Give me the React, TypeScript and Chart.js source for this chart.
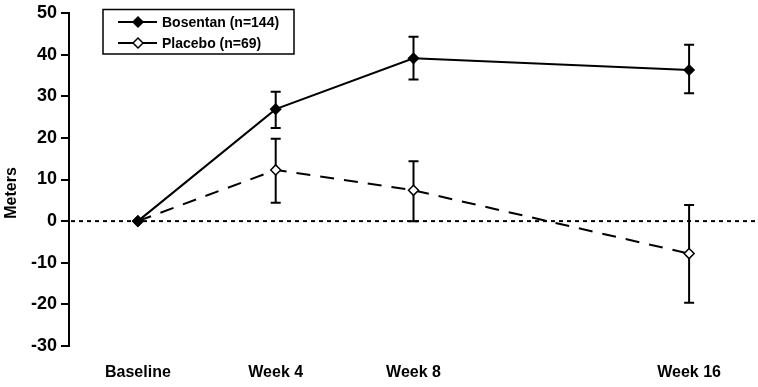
import React, { useEffect, useRef } from 'react';
import { Chart, registerables } from 'chart.js';

Chart.register(...registerables);

const weeks = [0, 4, 8, 16];
const xTickLabels = ['Baseline', 'Week 4', 'Week 8', 'Week 16'];
const yTicks = [-30, -20, -10, 0, 10, 20, 30, 40, 50];
const seriesNames = ['Bosentan (n=144)', 'Placebo (n=69)'];
const bosentan = [0, 26.9, 39.1, 36.3];
const bosentanLow = [0, 22.4, 34.0, 30.7];
const bosentanHigh = [0, 31.1, 44.3, 42.4];
const placebo = [0, 12.3, 7.4, -7.8];
const placeboLow = [0, 4.4, 0, -19.6];
const placeboHigh = [0, 19.8, 14.4, 3.9];
const yTitle = 'Meters';

const FONT = '"Liberation Sans", Arial, Helvetica, sans-serif';

const errorBarPlugin = {
  id: 'errorBars',
  beforeDatasetsDraw(chart: any) {
    const { ctx, chartArea, scales } = chart;
    const x = scales.x;
    const y = scales.y;
    ctx.save();
    // zero reference line
    ctx.strokeStyle = '#000';
    ctx.lineWidth = 2;
    ctx.setLineDash([4, 4]);
    const y0 = y.getPixelForValue(0);
    ctx.beginPath();
    ctx.moveTo(chartArea.left + 2, y0);
    ctx.lineTo(chartArea.right, y0);
    ctx.stroke();
    ctx.setLineDash([]);
    const sets = [
      [bosentanLow, bosentanHigh],
      [placeboLow, placeboHigh],
    ];
    sets.forEach(([lo, hi]) => {
      weeks.forEach((w, i) => {
        if (lo[i] === hi[i]) return;
        const px = x.getPixelForValue(w);
        const y1 = y.getPixelForValue(lo[i]);
        const y2 = y.getPixelForValue(hi[i]);
        ctx.beginPath();
        ctx.moveTo(px, y1);
        ctx.lineTo(px, y2);
        ctx.moveTo(px - 5, y1);
        ctx.lineTo(px + 5, y1);
        ctx.moveTo(px - 5, y2);
        ctx.lineTo(px + 5, y2);
        ctx.stroke();
      });
    });
    ctx.restore();
  },
};

const diamond = (ctx: CanvasRenderingContext2D, cx: number, cy: number, r: number, fill: string) => {
  ctx.beginPath();
  ctx.moveTo(cx - r, cy);
  ctx.lineTo(cx, cy - r);
  ctx.lineTo(cx + r, cy);
  ctx.lineTo(cx, cy + r);
  ctx.closePath();
  ctx.fillStyle = fill;
  ctx.fill();
  ctx.stroke();
};

const legendAndTitlePlugin = {
  id: 'legendBox',
  afterDraw(chart: any) {
    const { ctx } = chart;
    ctx.save();
    ctx.strokeStyle = '#000';
    ctx.lineWidth = 1.5;
    ctx.strokeRect(103, 9.5, 191, 44.5);
    const rows = [22, 43];
    const fills = ['#000', '#fff'];
    rows.forEach((ry, i) => {
      ctx.lineWidth = 2;
      ctx.beginPath();
      ctx.moveTo(118, ry);
      ctx.lineTo(157, ry);
      ctx.stroke();
      ctx.lineWidth = 1.5;
      diamond(ctx, 138, ry, 5, fills[i]);
      ctx.fillStyle = '#000';
      ctx.font = `bold 14px ${FONT}`;
      ctx.textAlign = 'left';
      ctx.textBaseline = 'middle';
      ctx.fillText(seriesNames[i], 162, ry + 1);
    });
    // y axis title
    ctx.translate(11, 193);
    ctx.rotate(-Math.PI / 2);
    ctx.font = `bold 16px ${FONT}`;
    ctx.textAlign = 'center';
    ctx.textBaseline = 'middle';
    ctx.fillStyle = '#000';
    ctx.fillText(yTitle, 0, 1);
    ctx.restore();
  },
};

export default function App() {
  const canvasRef = useRef<HTMLCanvasElement | null>(null);

  useEffect(() => {
    if (!canvasRef.current) return;
    Chart.defaults.font.family = FONT;
    Chart.defaults.color = '#000';
    const chart = new Chart(canvasRef.current, {
      type: 'line',
      data: {
        datasets: [
          {
            label: seriesNames[0],
            data: weeks.map((w, i) => ({ x: w, y: bosentan[i] })),
            borderColor: '#000',
            backgroundColor: '#000',
            borderWidth: 2,
            pointStyle: 'rectRot',
            pointRadius: 5,
            pointBackgroundColor: '#000',
            pointBorderColor: '#000',
            pointBorderWidth: 1.5,
            tension: 0,
          },
          {
            label: seriesNames[1],
            data: weeks.map((w, i) => ({ x: w, y: placebo[i] })),
            borderColor: '#000',
            backgroundColor: '#fff',
            borderWidth: 2,
            borderDash: [14, 10],
            pointStyle: 'rectRot',
            pointRadius: 5,
            pointBackgroundColor: '#fff',
            pointBorderColor: '#000',
            pointBorderWidth: 1.5,
            tension: 0,
          },
        ],
      },
      options: {
        responsive: false,
        animation: false,
        layout: { autoPadding: false, padding: { top: 10, left: 0, right: 0, bottom: 0 } },
        plugins: {
          legend: { display: false },
          tooltip: { enabled: false },
        },
        scales: {
          x: {
            type: 'linear',
            min: -2,
            max: 18,
            afterBuildTicks: (s: any) => {
              s.ticks = weeks.map((v) => ({ value: v }));
            },
            afterFit: (s: any) => {
              s.height = 41;
            },
            grid: { display: false, drawTicks: false },
            border: { display: false },
            ticks: {
              autoSkip: false,
              maxRotation: 0,
              padding: 17,
              font: { size: 16, weight: 'bold' },
              color: '#000',
              callback: (v: any) => {
                const idx = weeks.indexOf(Number(v));
                return idx >= 0 ? xTickLabels[idx] : '';
              },
            },
          },
          y: {
            min: -30,
            max: 50,
            afterBuildTicks: (s: any) => {
              s.ticks = yTicks.map((v) => ({ value: v }));
            },
            afterFit: (s: any) => {
              s.width = 69;
            },
            grid: {
              drawOnChartArea: false,
              drawTicks: true,
              tickLength: 8,
              color: '#000',
              lineWidth: 2,
            },
            border: { display: true, color: '#000', width: 2 },
            ticks: {
              padding: 4,
              font: { size: 18, weight: 'bold', lineHeight: 1 },
              color: '#000',
            },
          },
        },
      },
      plugins: [errorBarPlugin, legendAndTitlePlugin],
    } as any);
    return () => chart.destroy();
  }, []);

  return (
    <div style={{ position: 'fixed', left: 0, top: 0, width: 758, height: 387, background: '#fff' }}>
      <canvas ref={canvasRef} width={758} height={387} style={{ width: 758, height: 387, display: 'block' }} />
    </div>
  );
}
